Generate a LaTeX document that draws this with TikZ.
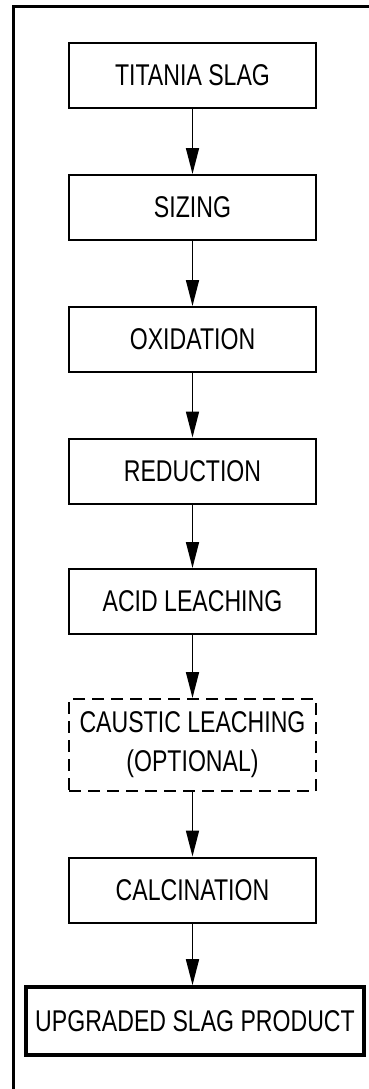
\documentclass[tikz,border=0pt]{standalone}
\usepackage{fontspec}
\setmainfont[FakeStretch=0.77]{Liberation Sans}
\usepackage{tikz}
\usetikzlibrary{positioning,arrows.meta}

\begin{document}
\begin{tikzpicture}[thick,-{Triangle[length=13pt,width=6.5pt]}]
\tikzstyle{every node}=[font=\fontsize{15}{19.5}\selectfont]
\tikzstyle{stepbox}=[draw,rectangle,line width=1pt,minimum width=123.5pt,minimum height=32.5pt,inner sep=0pt]
\useasboundingbox (0,0) rectangle (184.5pt,-544.5pt);
% outer frame, cut off at right and bottom
\draw[-,line width=1.5pt] (190pt,-3pt) -- (6.5pt,-3pt) -- (6.5pt,-550pt);
% the steps
\node[stepbox] (slag) at (96.25pt,-37.5pt) {TITANIA SLAG};
\node[stepbox, below of=slag, node distance=66.25pt] (sizing) {SIZING};
\node[stepbox, below of=sizing, node distance=66pt] (oxid) {OXIDATION};
\node[stepbox, below of=oxid, node distance=65.75pt] (reduc) {REDUCTION};
\node[stepbox, below of=reduc, node distance=65.25pt] (acid) {ACID LEACHING};
\node[stepbox, below of=acid, node distance=71.75pt, dash pattern=on 6pt off 3.5pt,
  minimum height=46pt, align=center] (caustic) {CAUSTIC LEACHING\\(OPTIONAL)};
\node[stepbox, below of=caustic, node distance=72.5pt] (calc) {CALCINATION};
\node[stepbox, below of=calc, node distance=65.5pt, line width=1.8pt,
  minimum width=169pt, minimum height=34pt, xshift=1.25pt] (product) {UPGRADED SLAG PRODUCT};
\draw (slag) -- (sizing);
\draw (sizing) -- (oxid);
\draw (oxid) -- (reduc);
\draw (reduc) -- (acid);
\draw (acid) -- (caustic);
\draw (caustic) -- (calc);
\draw (calc.south) -- (calc.south |- product.north);
\end{tikzpicture}
\end{document}
